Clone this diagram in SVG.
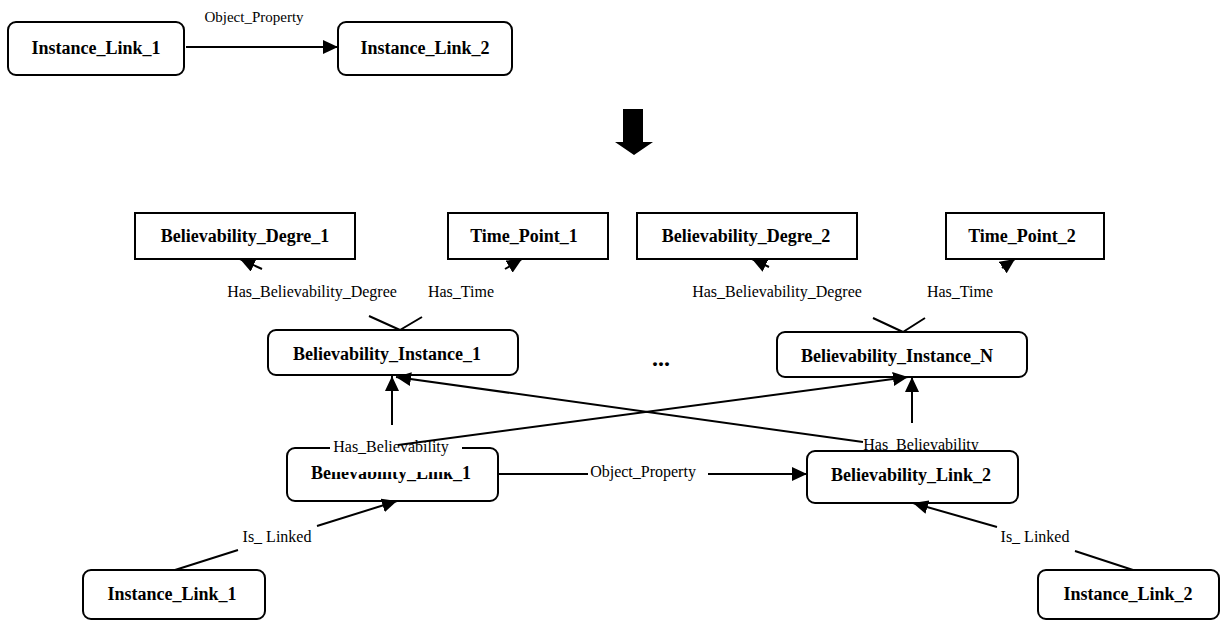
<svg xmlns="http://www.w3.org/2000/svg" width="1221" height="621" viewBox="0 0 1221 621">
<style>
.box{fill:#fff;stroke:#000;stroke-width:2}
.nt{font-family:"Liberation Serif","Times New Roman",serif;font-weight:bold;font-size:18px;text-anchor:middle;fill:#000}
.lt{font-family:"Liberation Serif","Times New Roman",serif;font-size:16px;text-anchor:middle;fill:#000}
.e{fill:none;stroke:#000;stroke-width:2}
.ea{fill:none;stroke:#000;stroke-width:2;marker-end:url(#ah)}
</style>
<defs>
<marker id="ah" markerUnits="userSpaceOnUse" markerWidth="16" markerHeight="14" refX="15" refY="7" orient="auto">
<path d="M0,0 L15,7 L0,14 z" fill="#000"/>
</marker>
<clipPath id="clipBL2"><rect x="800" y="400" width="250" height="51"/></clipPath>
</defs>
<rect width="1221" height="621" fill="#fff"/>

<g id="node-top-instance-link-1"><rect class="box" x="8" y="22" width="176" height="53" rx="8"/><text class="nt" x="96" y="54">Instance_Link_1</text></g>
<g id="node-top-instance-link-2"><rect class="box" x="338" y="22" width="174" height="53" rx="8"/><text class="nt" x="425" y="54">Instance_Link_2</text></g>

<g id="transform-arrow"><polygon points="623,109 643,109 643,142 653,142 634,155 615,142 623,142" fill="#000"/></g>

<g id="node-believability-degre-1"><rect class="box" x="135" y="213" width="220" height="46"/><text class="nt" x="245" y="242">Believability_Degre_1</text></g>
<g id="node-time-point-1"><rect class="box" x="448" y="213" width="160" height="46"/><text class="nt" x="524" y="242">Time_Point_1</text></g>
<g id="node-believability-degre-2"><rect class="box" x="637" y="213" width="220" height="46"/><text class="nt" x="746" y="242">Believability_Degre_2</text></g>
<g id="node-time-point-2"><rect class="box" x="946" y="213" width="158" height="46"/><text class="nt" x="1022" y="242">Time_Point_2</text></g>

<g id="node-believability-instance-1"><rect class="box" x="268" y="330" width="250" height="45" rx="8"/><text class="nt" x="387" y="360">Believability_Instance_1</text></g>
<g id="node-believability-instance-n"><rect class="box" x="777" y="332" width="250" height="45" rx="8"/><text class="nt" x="897" y="362">Believability_Instance_N</text></g>
<g id="ellipsis"><text class="nt" x="661" y="366" style="font-size:24px">...</text></g>

<g id="label-has-believability-2"><text class="lt" x="921" y="450" clip-path="url(#clipBL2)">Has_Believability</text></g>

<g id="node-believability-link-1"><rect class="box" x="287" y="448" width="211" height="53" rx="8"/><text class="nt" x="391" y="479">Believability_Link_1</text></g>
<g id="node-believability-link-2"><rect class="box" x="807" y="451" width="211" height="52" rx="8"/><text class="nt" x="911" y="481">Believability_Link_2</text></g>

<g id="node-instance-link-1"><rect class="box" x="83" y="570" width="182" height="49" rx="8"/><text class="nt" x="172" y="600">Instance_Link_1</text></g>
<g id="node-instance-link-2"><rect class="box" x="1038" y="570" width="181" height="49" rx="8"/><text class="nt" x="1128" y="600">Instance_Link_2</text></g>

<g id="connectors">
<rect x="330" y="437" width="132" height="35" fill="#fff"/>
<path class="ea" d="M186,47 L338,47"/>
<path class="ea" d="M400,330 L369,316 M262,269 L240,259"/>
<path class="ea" d="M400,330 L422,317 M505,269 L522,259"/>
<path class="ea" d="M903,332 L873,318 M769,267 L752,259"/>
<path class="ea" d="M903,332 L925,318 M1002,268 L1015,259"/>
<path class="ea" d="M392,425 L392,376"/>
<path class="ea" d="M912,423 L912,377"/>
<path class="ea" d="M863,442 L396,377"/>
<path class="ea" d="M398,445 L908,377"/>
<path class="ea" d="M498,474 L588,474 M708,474 L807,474"/>
<path class="ea" d="M175,570 L238,550 M317,526 L397,501"/>
<path class="ea" d="M1133,570 L1075,551 M997,527 L913,503"/>
<text class="lt" x="254" y="22" style="font-size:15px">Object_Property</text>
<text class="lt" x="312" y="297">Has_Believability_Degree</text>
<text class="lt" x="461" y="297">Has_Time</text>
<text class="lt" x="777" y="297">Has_Believability_Degree</text>
<text class="lt" x="960" y="297">Has_Time</text>
<text class="lt" x="391" y="452">Has_Believability</text>
<text class="lt" x="643" y="477">Object_Property</text>
<text class="lt" x="277" y="542">Is_ Linked</text>
<text class="lt" x="1035" y="542">Is_ Linked</text>
</g>
</svg>
